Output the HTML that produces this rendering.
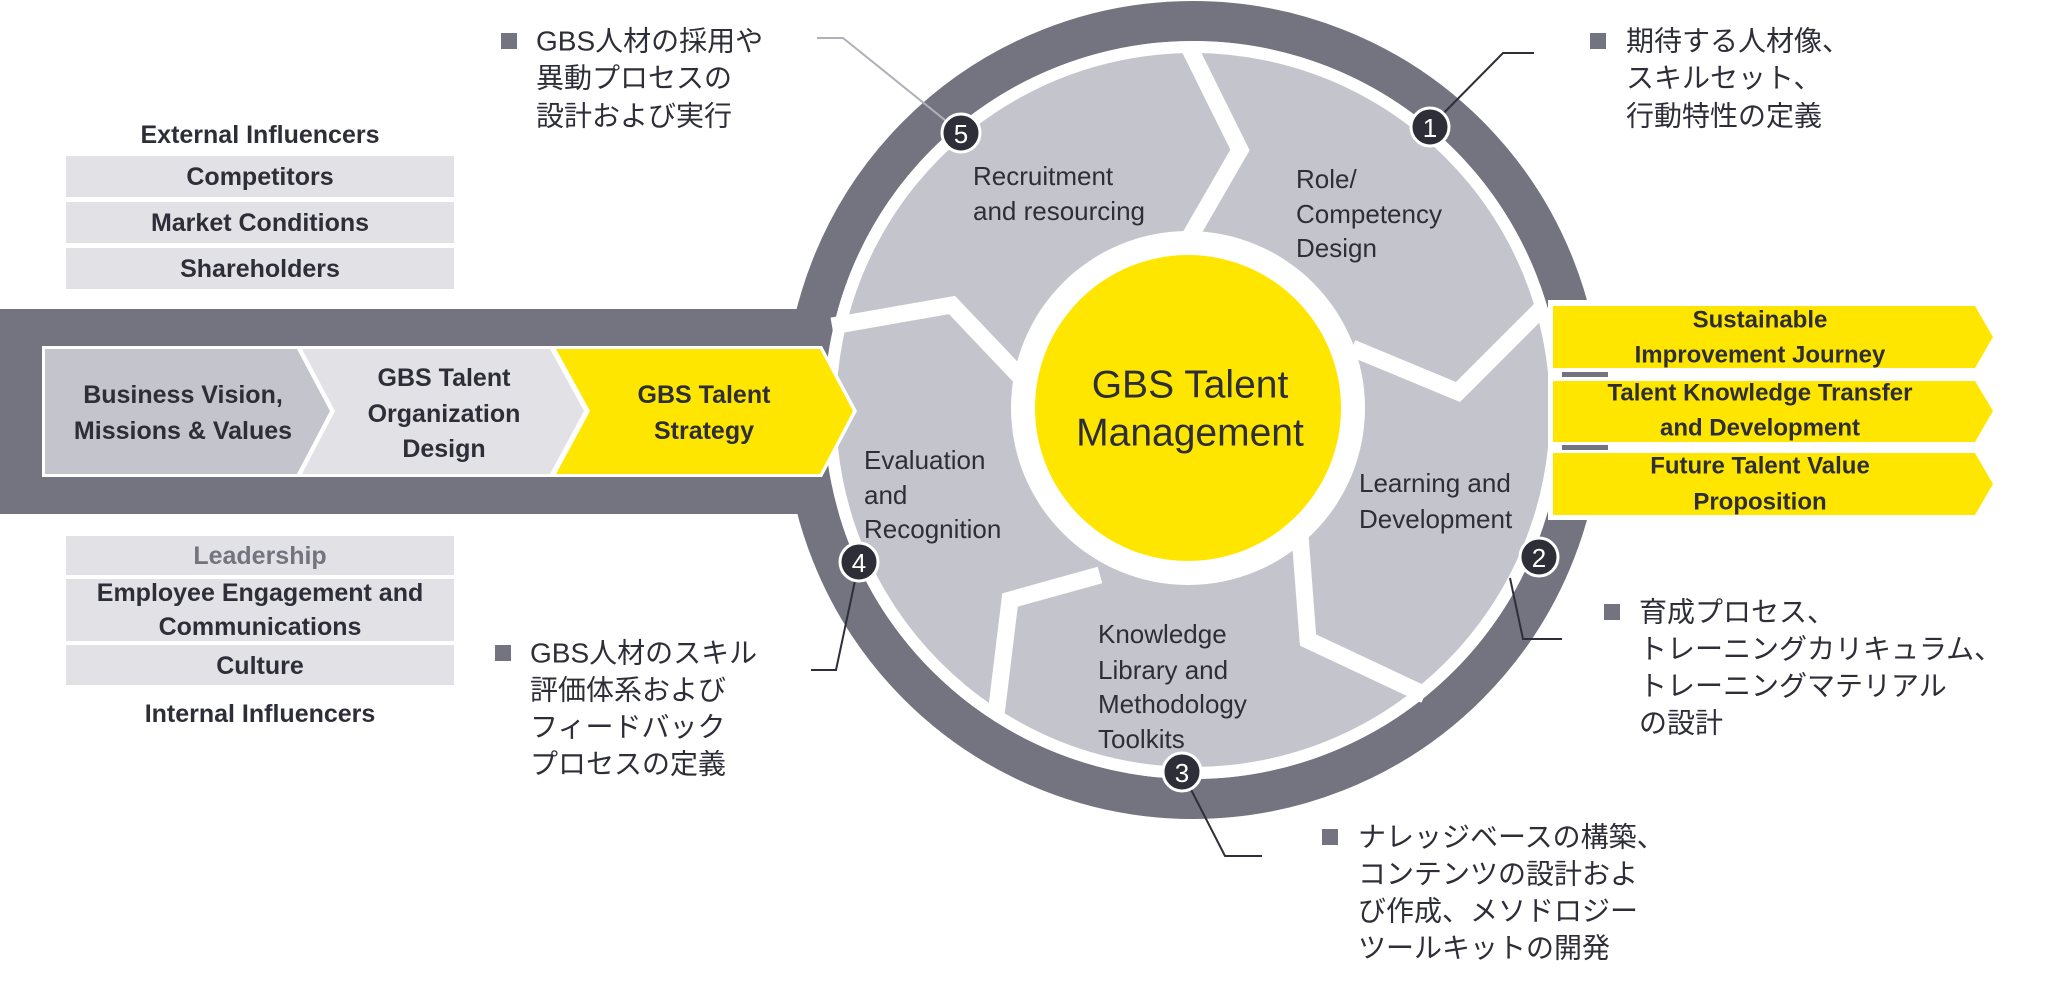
<!DOCTYPE html>
<html><head><meta charset="utf-8"><style>
html,body{margin:0;padding:0;background:#fff;}
svg{display:block;}
text{font-family:"Liberation Sans","Noto Sans CJK JP",sans-serif;fill:#2e2e38;dominant-baseline:central;}
.b{font-weight:bold;font-size:25px;}
.s{font-size:26px;}
.j{font-size:28px;}
</style></head><body>
<svg width="2048" height="988" viewBox="0 0 2048 988" xmlns="http://www.w3.org/2000/svg">
<circle cx="1193" cy="410" r="389" fill="none" stroke="#747480" stroke-width="40"/>
<rect x="0" y="309" width="900" height="205" fill="#747480"/>
<circle cx="1193" cy="410" r="369" fill="#fff"/>
<circle cx="1193" cy="410" r="357" fill="#c4c4cd"/>
<g fill="none" stroke="#fff" stroke-width="17" stroke-linejoin="miter">
<polyline points="1188,45 1240,150 1188,240"/>
<polyline points="1545,305 1458,392 1352,348"/>
<polyline points="1425,695 1308,640 1300,535"/>
<polyline points="1100,575 1010,600 996,715"/>
<polyline points="832,326 952,305 1027,384"/>
</g>
<circle cx="1188" cy="408" r="177" fill="#fff"/>
<circle cx="1188" cy="408" r="153" fill="#ffe600"/>
<text x="1190" y="385" text-anchor="middle" style="font-size:39px">GBS Talent</text>
<text x="1190" y="433" text-anchor="middle" style="font-size:39px">Management</text>
<text class="s" x="973" y="176">Recruitment</text>
<text class="s" x="973" y="211">and resourcing</text>
<text class="s" x="1296" y="179">Role/</text>
<text class="s" x="1296" y="214">Competency</text>
<text class="s" x="1296" y="248">Design</text>
<text class="s" x="864" y="460">Evaluation</text>
<text class="s" x="864" y="495">and</text>
<text class="s" x="864" y="529">Recognition</text>
<text class="s" x="1359" y="483">Learning and</text>
<text class="s" x="1359" y="519">Development</text>
<text class="s" x="1098" y="634">Knowledge</text>
<text class="s" x="1098" y="670">Library and</text>
<text class="s" x="1098" y="704">Methodology</text>
<text class="s" x="1098" y="739">Toolkits</text>
<polygon points="42,346 822,346 857,411 822,477 42,477" fill="#fff"/>
<polygon points="45,349 297,349 330,411 297,474 45,474" fill="#c4c4cd"/>
<polygon points="302,349 550,349 584,411 550,474 302,474 335,411" fill="#e1e1e6"/>
<polygon points="556,349 820,349 853,411 820,474 556,474 590,411" fill="#ffe600"/>
<text class="b" x="183" y="395" text-anchor="middle">Business Vision,</text>
<text class="b" x="183" y="431" text-anchor="middle">Missions &amp; Values</text>
<text class="b" x="444" y="378" text-anchor="middle">GBS Talent</text>
<text class="b" x="444" y="414" text-anchor="middle">Organization</text>
<text class="b" x="444" y="449" text-anchor="middle">Design</text>
<text class="b" x="704" y="395" text-anchor="middle">GBS Talent</text>
<text class="b" x="704" y="431" text-anchor="middle">Strategy</text>
<g fill="#e1e1e6">
<rect x="66" y="156" width="388" height="41"/>
<rect x="66" y="202" width="388" height="41"/>
<rect x="66" y="248" width="388" height="41"/>
<rect x="66" y="536" width="388" height="39"/>
<rect x="66" y="579" width="388" height="62"/>
<rect x="66" y="645" width="388" height="40"/>
</g>
<text class="b" x="260" y="135" text-anchor="middle">External Influencers</text>
<text class="b" x="260" y="177" text-anchor="middle">Competitors</text>
<text class="b" x="260" y="223" text-anchor="middle">Market Conditions</text>
<text class="b" x="260" y="269" text-anchor="middle">Shareholders</text>
<text class="b" x="260" y="556" text-anchor="middle" style="fill:#747480">Leadership</text>
<text class="b" x="260" y="593" text-anchor="middle">Employee Engagement and</text>
<text class="b" x="260" y="627" text-anchor="middle">Communications</text>
<text class="b" x="260" y="666" text-anchor="middle">Culture</text>
<text class="b" x="260" y="714" text-anchor="middle">Internal Influencers</text>
<rect x="1548" y="300" width="80" height="220" fill="#fff"/>
<g fill="#ffe600">
<polygon points="1553,306 1975,306 1993,337 1975,368 1553,368"/>
<polygon points="1553,381 1975,381 1993,411 1975,442 1553,442"/>
<polygon points="1553,453 1975,453 1993,484 1975,515 1553,515"/>
</g>
<rect x="1562" y="372" width="46" height="5" fill="#747480"/>
<rect x="1562" y="445" width="46" height="5" fill="#747480"/>
<g style="font-size:24px;font-weight:bold">
<text x="1760" y="320" text-anchor="middle">Sustainable</text>
<text x="1760" y="355" text-anchor="middle">Improvement Journey</text>
<text x="1760" y="393" text-anchor="middle">Talent Knowledge Transfer</text>
<text x="1760" y="428" text-anchor="middle">and Development</text>
<text x="1760" y="466" text-anchor="middle">Future Talent Value</text>
<text x="1760" y="502" text-anchor="middle">Proposition</text>
</g>
<polyline points="817,38 843,38 961,133" fill="none" stroke="#b0b0b8" stroke-width="2"/>
<polyline points="1430,127 1503,53 1534,53" fill="none" stroke="#2e2e38" stroke-width="2"/>
<polyline points="1510,578 1523,639 1562,639" fill="none" stroke="#2e2e38" stroke-width="2"/>
<polyline points="859,562 836,670 811,670" fill="none" stroke="#2e2e38" stroke-width="2"/>
<polyline points="1182,772 1225,856 1262,856" fill="none" stroke="#2e2e38" stroke-width="2"/>
<g stroke="#fff" stroke-width="3" fill="#2e2e38">
<circle cx="961" cy="133" r="19"/>
<circle cx="1430" cy="127" r="19"/>
<circle cx="1539" cy="557" r="19"/>
<circle cx="859" cy="562" r="19"/>
<circle cx="1182" cy="772" r="19"/>
</g>
<g style="font-size:26px" text-anchor="middle">
<text x="961" y="134" style="fill:#fff">5</text>
<text x="1430" y="128" style="fill:#fff">1</text>
<text x="1539" y="558" style="fill:#fff">2</text>
<text x="859" y="563" style="fill:#fff">4</text>
<text x="1182" y="773" style="fill:#fff">3</text>
</g>
<g fill="#747480">
<rect x="501" y="33" width="16" height="16"/>
<rect x="1590" y="33" width="16" height="16"/>
<rect x="1604" y="604" width="16" height="16"/>
<rect x="495" y="645" width="16" height="16"/>
<rect x="1322" y="829" width="16" height="16"/>
</g>
<text class="j" x="536" y="41">GBS人材の採用や</text>
<text class="j" x="536" y="78">異動プロセスの</text>
<text class="j" x="536" y="116">設計および実行</text>
<text class="j" x="1626" y="41">期待する人材像、</text>
<text class="j" x="1626" y="78">スキルセット、</text>
<text class="j" x="1626" y="116">行動特性の定義</text>
<text class="j" x="1639" y="612">育成プロセス、</text>
<text class="j" x="1639" y="649">トレーニングカリキュラム、</text>
<text class="j" x="1639" y="686">トレーニングマテリアル</text>
<text class="j" x="1639" y="723">の設計</text>
<text class="j" x="530" y="653">GBS人材のスキル</text>
<text class="j" x="530" y="690">評価体系および</text>
<text class="j" x="530" y="727">フィードバック</text>
<text class="j" x="530" y="764">プロセスの定義</text>
<text class="j" x="1358" y="837">ナレッジベースの構築、</text>
<text class="j" x="1358" y="874">コンテンツの設計およ</text>
<text class="j" x="1358" y="911">び作成、メソドロジー</text>
<text class="j" x="1358" y="948">ツールキットの開発</text>
</svg>
</body></html>
